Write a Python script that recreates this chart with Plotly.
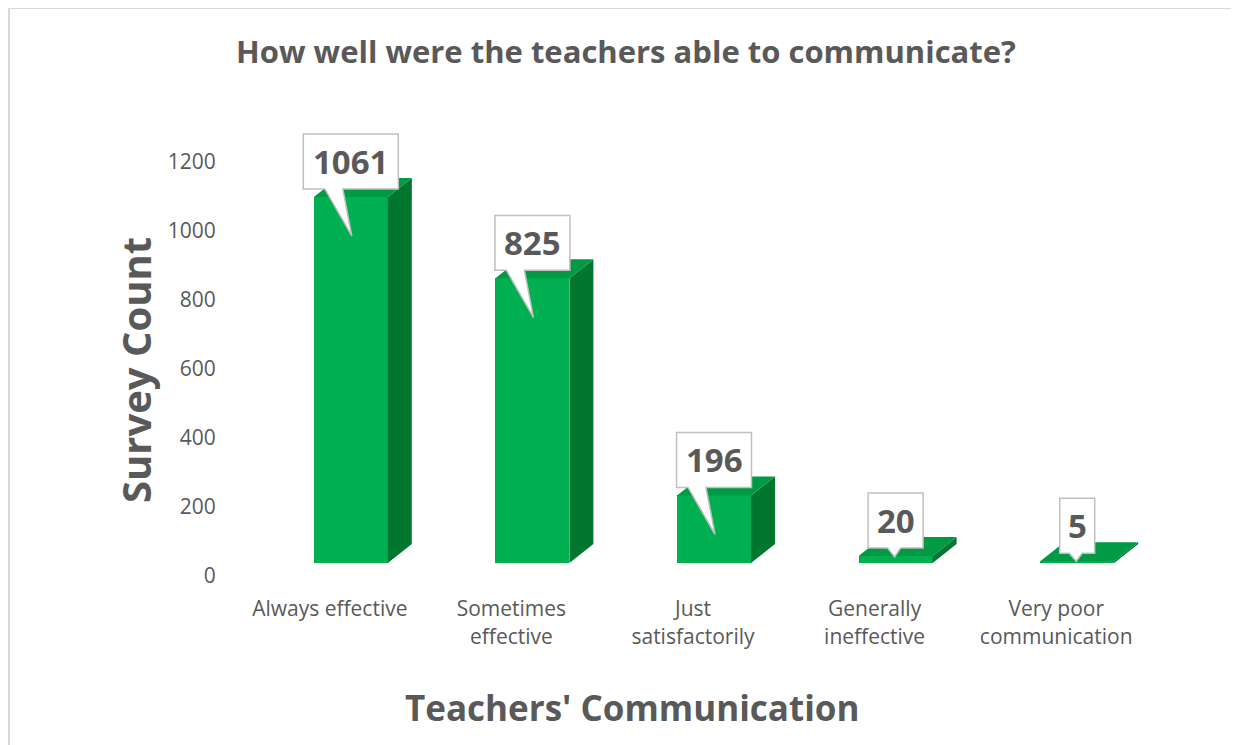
import plotly.graph_objects as go

# ---- data ----
categories = ["Always effective", "Sometimes<br>effective", "Just<br>satisfactorily",
              "Generally<br>ineffective", "Very poor<br>communication"]
counts = [1061, 825, 196, 20, 5]
y_ticks = [0, 200, 400, 600, 800, 1000, 1200]

# ---- layout geometry (page pixels; the page body adds an 8px offset) ----
OFF = 8
W, H = 1239 - OFF, 745 - OFF
PL, PR, PT, PB = 239, 1147, 100, 576          # plot area in page pixels
ML, MR, MT, MB = PL - OFF, W - (PR - OFF), PT - OFF, H - (PB - OFF)
XR = (-0.5, 4.5)
PX_X = (PR - PL) / (XR[1] - XR[0])            # px per category unit
PX_Y = 0.345                                   # px per value unit
YR = (0, (PB - PT) / PX_Y)


def ux(px):  # pixel length -> x units
    return px / PX_X


def uy(px):  # pixel length -> y units
    return px / PX_Y


def paper_x(px):  # page px -> paper
    return (px - PL) / (PR - PL)


def paper_y(py):
    return (PB - py) / (PB - PT)


FRONT = "#00B050"
TOP = "#009A44"
SIDE = "#00762F"
TXT = "#595959"

xs = list(range(len(categories)))
off = ux(21)
bw = ux(74)
base = uy(13)
ddx, ddy = ux(24), uy(19)

fig = go.Figure()
fig.add_trace(go.Bar(
    x=[i + off for i in xs], y=counts, base=base, width=bw,
    marker=dict(color=FRONT, line=dict(width=0)), hoverinfo="skip", showlegend=False))

shapes = []
annotations = []
for i, v in zip(xs, counts):
    xl = i + off - bw / 2
    xr = i + off + bw / 2
    yb = base
    yt = base + v
    # side face
    shapes.append(dict(type="path", xref="x", yref="y", layer="above",
                       path=f"M{xr},{yb} L{xr+ddx},{yb+ddy} L{xr+ddx},{yt+ddy} L{xr},{yt} Z",
                       fillcolor=SIDE, line=dict(width=0)))
    # top face
    shapes.append(dict(type="path", xref="x", yref="y", layer="above",
                       path=f"M{xl},{yt} L{xl+ddx},{yt+ddy} L{xr+ddx},{yt+ddy} L{xr},{yt} Z",
                       fillcolor=TOP, line=dict(width=0)))

for i, v in zip(xs, counts):
    cx = i + off
    yt = base + v
    hpx = v * PX_Y
    label = str(v)
    bwid = ux(15 + 20 * len(label))
    box_bot = yt + uy(8)
    box_top = box_bot + uy(55)
    tip_y = yt - uy(min(39, max(0, hpx - 6)))
    tail_len = (box_bot - tip_y) * PX_Y
    if tail_len > 25:
        bl, br, tx = cx - ux(26), cx - ux(8), cx + ux(1)
    else:
        bl, br, tx = cx - ux(8), cx + ux(5), cx - ux(1)
    L, R = cx - bwid / 2, cx + bwid / 2
    path = (f"M{L},{box_top} L{R},{box_top} L{R},{box_bot} L{br},{box_bot} "
            f"L{tx},{tip_y} L{bl},{box_bot} L{L},{box_bot} Z")
    shapes.append(dict(type="path", xref="x", yref="y", layer="above", path=path,
                       fillcolor="white", line=dict(color="#BFBFBF", width=1.5)))
    annotations.append(dict(x=cx, y=(box_top + box_bot) / 2, xref="x", yref="y",
                            text=f"<b>{label}</b>", showarrow=False,
                            xanchor="center", yanchor="middle",
                            font=dict(family="Open Sans", size=33, color=TXT)))

# chart border (top and left)
shapes.append(dict(type="line", xref="paper", yref="paper",
                   x0=paper_x(9), x1=paper_x(1245), y0=paper_y(8), y1=paper_y(8),
                   line=dict(color="#D9D9D9", width=2)))
shapes.append(dict(type="line", xref="paper", yref="paper",
                   x0=paper_x(9), x1=paper_x(9), y0=paper_y(8), y1=paper_y(750),
                   line=dict(color="#D9D9D9", width=2)))

annotations.append(dict(x=paper_x(135), y=paper_y(370), xref="paper", yref="paper",
                        text="<b>Survey Count</b>", textangle=-90, showarrow=False,
                        xanchor="center", yanchor="middle",
                        font=dict(family="Open Sans", size=40, color=TXT)))
annotations.append(dict(x=paper_x(632), y=paper_y(707), xref="paper", yref="paper",
                        text="<b>Teachers' Communication</b>", showarrow=False,
                        xanchor="center", yanchor="middle",
                        font=dict(family="Open Sans", size=35, color=TXT)))

fig.update_layout(
    width=W, height=H,
    margin=dict(l=ML, r=MR, t=MT, b=MB),
    paper_bgcolor="white", plot_bgcolor="white",
    title=dict(text="<b>How well were the teachers able to communicate?</b>",
               x=(626 - OFF) / W, xanchor="center", y=1 - (52 - OFF) / H, yanchor="middle",
               xref="container", yref="container",
               font=dict(family="Open Sans", size=31, color=TXT)),
    xaxis=dict(range=list(XR), tickvals=xs, ticktext=categories, showgrid=False,
               zeroline=False, showline=False, ticks="outside", ticklen=14,
               tickcolor="rgba(0,0,0,0)",
               tickfont=dict(family="Open Sans", size=21, color=TXT), fixedrange=True),
    yaxis=dict(range=list(YR), tickvals=y_ticks, showgrid=False, zeroline=False,
               showline=False, ticks="outside", ticklen=18, tickcolor="rgba(0,0,0,0)",
               tickfont=dict(family="Open Sans", size=21, color=TXT), fixedrange=True),
    shapes=shapes, annotations=annotations,
    bargap=0, showlegend=False,
)

fig.write_html("out.html")
